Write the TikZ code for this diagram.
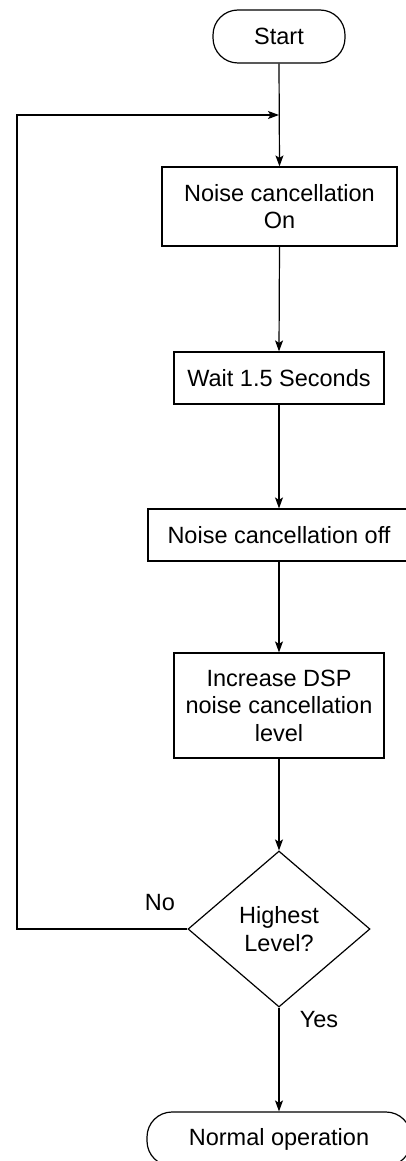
\documentclass[tikz,border=0pt]{standalone}
\usepackage{fontspec}
\setmainfont{Liberation Sans}
\usetikzlibrary{shapes.geometric,arrows.meta}
\begin{document}
\begin{tikzpicture}[x=1pt,y=-1pt,
  every node/.style={font=\fontsize{23.5}{27.5}\selectfont, inner sep=0pt, align=center},
  box/.style={draw, line width=1.2pt, rectangle},
  term/.style={draw, line width=1.2pt, rectangle, rounded corners=25pt},
  dec/.style={draw, line width=1.2pt, diamond, minimum width=182pt, minimum height=156pt},
  flow/.style={line width=1.2pt, -{Stealth[length=11pt,width=8pt,inset=2.5pt]}},
  plain/.style={line width=1.2pt}]
\useasboundingbox (0,0) rectangle (406,1161);
\clip (0,0) rectangle (406,1161);
\fill[white] (0,0) rectangle (406,1161);
\node[term, minimum width=132pt, minimum height=53pt] (start) at (279,36.5) {Start};
\node[box, minimum width=235pt, minimum height=79pt] (b1) at (279.5,206.5) {Noise cancellation\\On};
\node[box, minimum width=210pt, minimum height=52pt] (b2) at (279,378) {Wait 1.5 Seconds};
\node[box, minimum width=262pt, minimum height=52pt] (b3) at (279,535) {Noise cancellation off};
\node[box, minimum width=210pt, minimum height=105pt] (b4) at (279,705.5) {Increase DSP\\noise cancellation\\level};
\node[dec] (d) at (279,929) {Highest\\Level?};
\node[term, minimum width=264pt, minimum height=54pt] (end) at (279,1139) {Normal operation};
\coordinate (j) at (279,115);
\coordinate (c1) at (17,929);
\coordinate (c2) at (17,115);
\draw[flow] (start.south) -- (b1.north);
\draw[flow] (b1.south) -- (b2.north);
\draw[flow] (b2.south) -- (b3.north);
\draw[flow] (b3.south) -- (b4.north);
\draw[flow] (b4.south) -- (d.north);
\draw[flow] (d.south) -- (end.north);
\draw[flow] (d.west) -- (c1) -- (c2) -- (j);
\node (no) at (160,903) {No};
\node (yes) at (319,1020) {Yes};
\end{tikzpicture}
\end{document}
